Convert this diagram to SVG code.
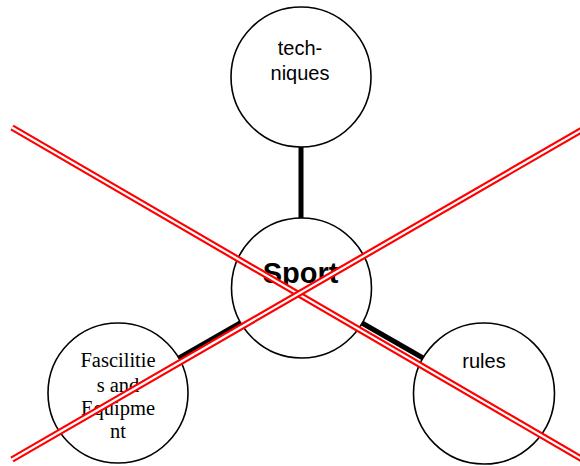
<svg xmlns="http://www.w3.org/2000/svg" width="580" height="466" viewBox="0 0 580 466">
  <style>
    .node circle { fill: #ffffff; stroke: #000000; stroke-width: 1.6; }
    .link { stroke: #000000; stroke-width: 5; fill: none; }
    .sans { font-family: "Liberation Sans", Arial, sans-serif; font-size: 20px; fill: #000000; text-anchor: middle; }
    .serif { font-family: "Liberation Serif", "Times New Roman", serif; font-size: 20.5px; fill: #000000; text-anchor: middle; }
    .title { font-family: "Liberation Sans", Arial, sans-serif; font-size: 29px; font-weight: bold; fill: #000000; text-anchor: middle; }
    .strike-outer { stroke: #ff0000; stroke-width: 6.5; fill: none; }
    .strike-inner { stroke: #ffffff; stroke-width: 2.2; fill: none; }
  </style>
  <rect width="580" height="466" fill="#ffffff"/>

  <!-- connectors between the hub and its branches -->
  <g id="connectors">
    <line class="link" x1="301" y1="288" x2="301" y2="77"/>
    <line class="link" x1="301" y1="288" x2="118" y2="393"/>
    <line class="link" x1="301" y1="288" x2="484" y2="393"/>
  </g>

  <g id="node-techniques" class="node">
    <circle cx="301" cy="77" r="70"/>
    <text class="sans" x="300" y="55">tech-</text>
    <text class="sans" x="300" y="80">niques</text>
  </g>

  <g id="node-sport" class="node">
    <circle cx="301.5" cy="288" r="70"/>
    <text class="title" x="300.5" y="283">Sport</text>
  </g>

  <g id="node-facilities" class="node">
    <circle cx="118" cy="393" r="70"/>
    <text class="serif" x="118" y="366.5">Fascilitie</text>
    <text class="serif" x="118" y="391.5">s and</text>
    <text class="serif" x="118" y="414.5">Equipme</text>
    <text class="serif" x="118" y="438">nt</text>
  </g>

  <g id="node-rules" class="node">
    <circle cx="484" cy="393.5" r="70.5"/>
    <text class="sans" x="484" y="368">rules</text>
  </g>

  <!-- double red cross drawn over the whole diagram -->
  <g id="cross">
    <line class="strike-outer" x1="12" y1="127.5" x2="586" y2="461.5"/>
    <line class="strike-inner" x1="12" y1="127.5" x2="586" y2="461.5"/>
    <line class="strike-outer" x1="12" y1="459.5" x2="586" y2="127.5"/>
    <line class="strike-inner" x1="12" y1="459.5" x2="586" y2="127.5"/>
  </g>
</svg>
